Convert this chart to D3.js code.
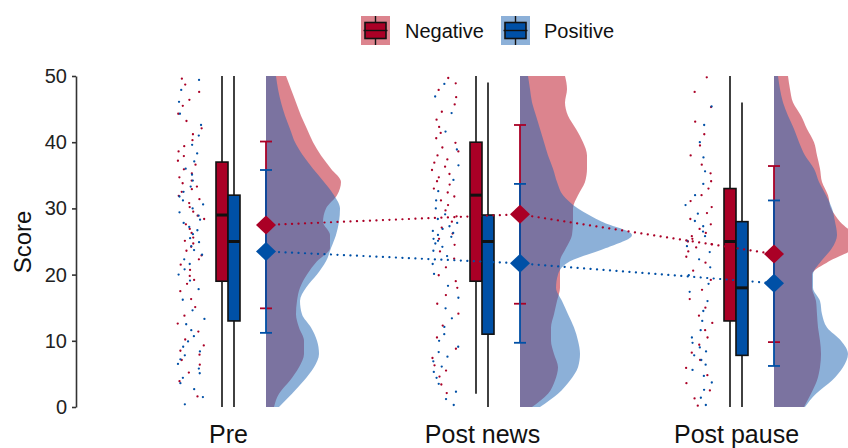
<!DOCTYPE html>
<html>
<head>
<meta charset="utf-8">
<script src="https://cdn.jsdelivr.net/npm/d3@7/dist/d3.min.js"></script>
<style>
  body { margin: 0; background: #fff; }
  text { font-family: "Liberation Sans", Arial, sans-serif; }
</style>
</head>
<body>
<svg id="chart" width="848" height="448"></svg>
<script>
'use strict';

var conditions = ["Pre", "Post news", "Post pause"];
var groups = ["Negative", "Positive"];
var yTicks = [0, 10, 20, 30, 40, 50];

// raw scores (rain)
var preNeg = [1.6, 3.9, 5.2, 6.4, 7.1, 7.9, 8.5, 9.3, 10.2, 11.4, 12.6, 13.8, 15.1, 16.3, 17.5, 18.6, 19.2, 19.8, 20.7, 21.5,
  22.3, 22.9, 23.6, 24.2, 24.7, 25.1, 25.6, 26.3, 26.9, 27.6, 28.4, 28.9, 29.5, 30.2, 30.8, 31.4, 31.9, 32.5, 32.9, 33.3,
  33.8, 34.2, 34.7, 35.3, 35.9, 36.6, 37.2, 37.9, 38.6, 39.4, 40.3, 41.2, 42.1, 43.2, 44.3, 45.5, 46.4, 47.6, 48.7, 49.6];
var prePos = [0.4, 1.5, 2.7, 3.6, 4.4, 5.1, 5.8, 6.5, 7.2, 7.8, 8.4, 9.1, 9.9, 10.7, 11.6, 12.5, 13.3, 14.6, 16.2, 17.8,
  19.1, 20.0, 20.8, 21.6, 22.3, 23.0, 23.7, 24.3, 24.9, 25.5, 26.1, 26.7, 27.2, 27.8, 28.3, 28.9, 29.4, 30.0, 30.6, 31.2,
  31.8, 32.5, 33.3, 34.2, 35.1, 36.0, 37.1, 38.3, 39.6, 41.0, 42.6, 44.3, 46.1, 47.9, 49.4];
var newsNeg = [2.1, 3.4, 4.6, 5.5, 6.3, 7.4, 8.8, 10.5, 12.3, 14.1, 15.6, 16.9, 18.0, 19.0, 19.9, 21.1, 22.4, 23.5, 24.5, 25.4,
  26.2, 27.1, 28.0, 28.8, 29.7, 30.5, 31.2, 31.8, 32.4, 33.0, 33.6, 34.1, 34.7, 35.2, 35.8, 36.3, 36.9, 37.4, 38.0, 38.6,
  39.2, 39.9, 40.6, 41.4, 42.3, 43.4, 44.6, 45.7, 46.8, 47.9, 48.9, 49.7];
var newsPos = [0.3, 1.2, 2.3, 3.5, 4.4, 5.3, 6.1, 6.9, 7.6, 8.3, 9.1, 10.0, 11.0, 12.1, 13.4, 14.9, 16.5, 18.3, 20.1, 21.6,
  22.8, 23.6, 24.2, 24.7, 25.1, 25.4, 25.7, 26.0, 26.3, 26.6, 26.9, 27.3, 27.8, 28.4, 29.1, 30.0, 31.2, 32.6, 34.3, 36.5,
  38.9, 41.6, 44.4, 46.9, 48.8];
var pauseNeg = [0.2, 1.3, 2.5, 3.6, 4.8, 5.9, 7.1, 8.2, 9.4, 10.5, 11.6, 12.7, 13.8, 15.0, 16.3, 17.7, 19.2, 20.6, 21.8, 22.7,
  23.5, 24.1, 24.6, 25.0, 25.4, 25.8, 26.3, 26.9, 27.6, 28.4, 29.3, 30.2, 31.1, 32.0, 33.0, 34.1, 35.3, 36.6, 38.0, 39.5,
  41.2, 43.1, 45.3, 47.6, 49.8];
var pausePos = [0.3, 1.4, 2.6, 3.7, 4.7, 5.6, 6.4, 7.1, 7.8, 8.4, 9.0, 9.7, 10.5, 11.6, 13.0, 14.5, 16.0, 17.4, 18.6, 19.9,
  21.1, 22.3, 23.4, 24.3, 25.1, 25.8, 26.5, 27.3, 28.1, 29.2, 30.5, 32.0, 33.7, 35.6, 37.7, 40.0, 42.6, 45.4];

// boxplot stats: lower whisker, q1, median, q3, upper whisker
var negBox = [[0, 19, 29, 37, 50], [2, 19, 32, 40, 50], [0, 13, 25, 33, 50]];
var posBox = [[0, 13, 25, 32, 50], [0, 11, 25, 29, 49], [0, 7.8, 18, 28, 46]];

// mean +/- sd
var negMean = [27.5, 29.1, 23.1];
var negSd = [12.6, 13.5, 13.3];
var posMean = [23.5, 21.7, 18.7];
var posSd = [12.3, 12.0, 12.5];

// half violin densities (cloud), evaluated on densityGrid
var densityGrid = [0, 2, 4, 6, 8, 10, 12, 14, 16, 18, 20, 22, 24, 26, 28, 30, 32, 34, 36, 38, 40, 42, 44, 46, 48, 50];
var preNegDens = [0.08, 0.13, 0.24, 0.33, 0.38, 0.38, 0.33, 0.30, 0.31, 0.34, 0.41, 0.51, 0.64, 0.64, 0.57, 0.60, 0.71, 0.75, 0.65, 0.55, 0.47, 0.41, 0.35, 0.30, 0.25, 0.20];
var prePosDens = [0.13, 0.26, 0.38, 0.48, 0.53, 0.51, 0.45, 0.36, 0.34, 0.40, 0.51, 0.60, 0.65, 0.70, 0.73, 0.74, 0.68, 0.58, 0.47, 0.37, 0.29, 0.24, 0.19, 0.15, 0.12, 0.10];
var newsNegDens = [0.12, 0.28, 0.35, 0.38, 0.34, 0.31, 0.31, 0.34, 0.37, 0.40, 0.40, 0.40, 0.46, 0.52, 0.53, 0.53, 0.58, 0.65, 0.67, 0.67, 0.63, 0.56, 0.48, 0.45, 0.47, 0.45];
var newsPosDens = [0.20, 0.38, 0.50, 0.58, 0.60, 0.58, 0.54, 0.48, 0.42, 0.36, 0.38, 0.50, 0.86, 1.12, 0.82, 0.58, 0.43, 0.37, 0.33, 0.28, 0.24, 0.20, 0.16, 0.12, 0.10, 0.08];
var pauseNegDens = [0.30, 0.37, 0.43, 0.46, 0.47, 0.46, 0.44, 0.43, 0.42, 0.38, 0.38, 0.55, 0.78, 0.78, 0.66, 0.57, 0.54, 0.48, 0.46, 0.43, 0.40, 0.33, 0.27, 0.19, 0.16, 0.14];
var pausePosDens = [0.31, 0.42, 0.58, 0.69, 0.74, 0.67, 0.53, 0.48, 0.46, 0.39, 0.39, 0.47, 0.58, 0.63, 0.61, 0.58, 0.52, 0.45, 0.40, 0.31, 0.25, 0.20, 0.14, 0.09, 0.06, 0.04];

var series = {
    Negative: {points: [preNeg, newsNeg, pauseNeg], box: negBox, mean: negMean, sd: negSd,
               dens: [preNegDens, newsNegDens, pauseNegDens]},
    Positive: {points: [prePos, newsPos, pausePos], box: posBox, mean: posMean, sd: posSd,
               dens: [prePosDens, newsPosDens, pausePosDens]}
};

var width = 848, height = 448;
var svg = d3.select("#chart");

var x = d3.scalePoint().domain(conditions).range([228, 736]);
var y = d3.scaleLinear().domain([0, 50]).range([407, 76]);
var w = d3.scaleLinear().domain([0, 1]).range([0, 100]);
var color = d3.scaleOrdinal().domain(groups).range(["#AA0026", "#0050A6"]);
// the clouds are a touch lighter than the boxes
var cloudColor = d3.scaleOrdinal().domain(groups).range(["#BA0A1E", "#1A62B2"]);
var dodge = d3.scaleBand().domain(groups).range([-12, 12]);

// offsets from the category position
var rainOffset = -37, rainSpread = 27, cloudOffset = 38;

// fixed hash for the horizontal jitter (no Math.random, so the picture is stable)
function jitter(i, k) {
    var s = Math.sin((i + 1) * 78.233 + k * 12.9898) * 43758.5453;
    return s - Math.floor(s) - 0.5;
}

svg.append("defs").append("clipPath").attr("id", "panel")
    .append("rect").attr("x", 76).attr("y", 70).attr("width", width - 76).attr("height", 345);

var plot = svg.append("g").attr("clip-path", "url(#panel)");

// rain: jittered raw scores
groups.forEach(function (g, gi) {
    conditions.forEach(function (c, ci) {
        plot.append("g").selectAll("circle")
            .data(series[g].points[ci])
            .enter().append("circle")
            .attr("cx", function (d, i) { return x(c) + rainOffset + jitter(i, gi * 3 + ci + 1) * rainSpread; })
            .attr("cy", function (d) { return y(d); })
            .attr("r", 1.15)
            .style("fill", color(g));
    });
});

// boxplots
groups.forEach(function (g) {
    conditions.forEach(function (c, ci) {
        var b = series[g].box[ci],
            x0 = x(c) + dodge(g),
            bw = dodge.bandwidth(),
            cx = x0 + bw / 2;
        var bg = plot.append("g");
        bg.append("line")
            .attr("x1", cx).attr("x2", cx)
            .attr("y1", y(b[0])).attr("y2", y(b[4]))
            .style("stroke", "#111").style("stroke-width", 1.6);
        bg.append("rect")
            .attr("x", x0).attr("width", bw)
            .attr("y", y(b[3])).attr("height", y(b[1]) - y(b[3]))
            .style("fill", color(g)).style("stroke", "#111").style("stroke-width", 1.6);
        bg.append("line")
            .attr("x1", x0).attr("x2", x0 + bw)
            .attr("y1", y(b[2])).attr("y2", y(b[2]))
            .style("stroke", "#111").style("stroke-width", 3);
    });
});

// clouds: half violins
var cloud = d3.area()
    .curve(d3.curveMonotoneY)
    .y(function (d, i) { return y(densityGrid[i]); });

groups.forEach(function (g) {
    conditions.forEach(function (c, ci) {
        var base = x(c) + cloudOffset;
        plot.append("path")
            .datum(series[g].dens[ci])
            .attr("d", cloud.x0(base).x1(function (d) { return base + w(d); }))
            .style("fill", cloudColor(g))
            .style("fill-opacity", 0.5);
    });
});

// dotted lines joining the means
var meanLine = d3.line()
    .x(function (d, i) { return x(conditions[i]) + cloudOffset; })
    .y(function (d) { return y(d); });

groups.forEach(function (g) {
    plot.append("path")
        .datum(series[g].mean)
        .attr("d", meanLine)
        .style("fill", "none")
        .style("stroke", color(g))
        .style("stroke-width", 2.2)
        .style("stroke-linecap", "round")
        .style("stroke-dasharray", "0.1,6.4");
});

// mean +/- sd error bars
groups.forEach(function (g) {
    conditions.forEach(function (c, ci) {
        var cx = x(c) + cloudOffset,
            lo = y(series[g].mean[ci] - series[g].sd[ci]),
            hi = y(series[g].mean[ci] + series[g].sd[ci]);
        var eg = plot.append("g").style("stroke", color(g)).style("stroke-width", 1.8);
        eg.append("line").attr("x1", cx).attr("x2", cx).attr("y1", lo).attr("y2", hi);
        eg.append("line").attr("x1", cx - 6).attr("x2", cx + 6).attr("y1", lo).attr("y2", lo);
        eg.append("line").attr("x1", cx - 6).attr("x2", cx + 6).attr("y1", hi).attr("y2", hi);
    });
});

// mean diamonds
groups.forEach(function (g) {
    plot.append("g").selectAll("path")
        .data(series[g].mean)
        .enter().append("path")
        .attr("transform", function (d, i) {
            return "translate(" + (x(conditions[i]) + cloudOffset) + "," + y(d) + ")";
        })
        .attr("d", "M0,-9.5L10,0L0,9.5L-10,0Z")
        .style("fill", color(g));
});

// y axis
var yAxis = svg.append("g")
    .attr("transform", "translate(76,0)")
    .call(d3.axisLeft(y).tickValues(yTicks).tickSize(4).tickSizeOuter(0).tickPadding(5));
yAxis.select(".domain").style("stroke", "#333").style("stroke-width", 1.6);
yAxis.selectAll(".tick line").style("stroke", "#333").style("stroke-width", 1.6);
yAxis.selectAll(".tick text")
    .style("font-size", "20px")
    .style("fill", "#222")
    .style("font-family", "'Liberation Sans', Arial, sans-serif");

svg.append("text")
    .attr("transform", "translate(31,242) rotate(-90)")
    .style("text-anchor", "middle")
    .style("font-size", "24px")
    .style("fill", "#111")
    .text("Score");

// x labels
var xAxis = svg.append("g")
    .attr("transform", "translate(0,407)")
    .call(d3.axisBottom(x).tickSize(0).tickPadding(18));
xAxis.select(".domain").remove();
xAxis.selectAll(".tick text")
    .style("font-size", "25px")
    .style("fill", "#111")
    .style("font-family", "'Liberation Sans', Arial, sans-serif");

// legend
var legendX = [361, 501], textX = [405, 544];
var legend = svg.append("g");
groups.forEach(function (g, gi) {
    var k = legend.append("g").attr("transform", "translate(" + legendX[gi] + ",16)");
    k.append("rect").attr("width", 29).attr("height", 29)
        .style("fill", cloudColor(g)).style("fill-opacity", 0.5);
    k.append("line").attr("x1", 14.5).attr("x2", 14.5).attr("y1", 0).attr("y2", 29)
        .style("stroke", "#111").style("stroke-width", 1.4);
    k.append("rect").attr("x", 4).attr("y", 6.5).attr("width", 21).attr("height", 16)
        .style("fill", color(g)).style("stroke", "#111").style("stroke-width", 1.6);
    k.append("line").attr("x1", 2.5).attr("x2", 26.5).attr("y1", 14.5).attr("y2", 14.5)
        .style("stroke", "#111").style("stroke-width", 1.4);
    legend.append("text")
        .attr("x", textX[gi]).attr("y", 38)
        .style("font-size", "20px")
        .style("fill", "#111")
        .text(g);
});
</script>
</body>
</html>
